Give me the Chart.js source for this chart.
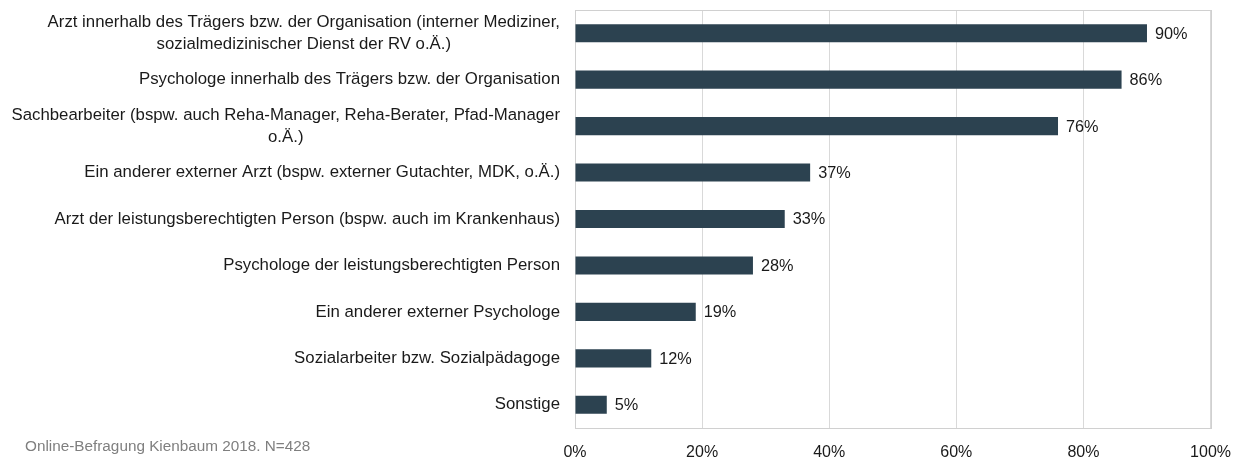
<!DOCTYPE html>
<html>
<head>
    <meta charset="utf-8">
    <title>Beteiligte an der Begutachtung</title>
    <style>
        html, body {
            margin: 0;
            padding: 0;
            background: #ffffff;
        }
        .wrap {
            position: relative;
            width: 1246px;
            height: 461px;
        }
    </style>
</head>
<body>
    <div class="wrap">
        <canvas id="chart" width="1246" height="461"></canvas>
    </div>
    <script src="https://cdn.jsdelivr.net/npm/chart.js"></script>
    <script>
        // Kategorien (mehrzeilige Beschriftungen als Arrays)
        var categories = [
            ['Arzt innerhalb des Trägers bzw. der Organisation (interner Mediziner,', 'sozialmedizinischer Dienst der RV o.Ä.)'],
            ['Psychologe innerhalb des Trägers bzw. der Organisation'],
            ['Sachbearbeiter (bspw. auch Reha-Manager, Reha-Berater, Pfad-Manager', 'o.Ä.)'],
            ['Ein anderer externer Arzt (bspw. externer Gutachter, MDK, o.Ä.)'],
            ['Arzt der leistungsberechtigten Person (bspw. auch im Krankenhaus)'],
            ['Psychologe der leistungsberechtigten Person'],
            ['Ein anderer externer Psychologe'],
            ['Sozialarbeiter bzw. Sozialpädagoge'],
            ['Sonstige']
        ];
        var values = [90, 86, 76, 37, 33, 28, 19, 12, 5];
        var xTicks = [0, 20, 40, 60, 80, 100];
        var sourceNote = 'Online-Befragung Kienbaum 2018. N=428';

        var FONT = '"Liberation Sans", Arial, sans-serif';

        // Rahmen um die Zeichenfläche
        var frame = {
            id: 'frame',
            beforeDatasetsDraw: function(chart) {
                var a = chart.chartArea;
                var ctx = chart.ctx;
                ctx.save();
                ctx.strokeStyle = '#d0d0d0';
                ctx.lineWidth = 1;
                ctx.strokeRect(Math.round(a.left) + 0.5, Math.round(a.top) + 0.5,
                    Math.round(a.right - a.left), Math.round(a.bottom - a.top));
                ctx.restore();
            }
        };

        // Beschriftungen links: Block rechtsbündig, Zeilen zentriert
        var yLabels = {
            id: 'yLabels',
            afterDraw: function(chart) {
                var ctx = chart.ctx;
                var y = chart.scales.y;
                var right = chart.chartArea.left - 15;
                var lh = 22;
                ctx.save();
                ctx.font = '16.8px ' + FONT;
                ctx.fillStyle = '#1a1a1a';
                ctx.textAlign = 'center';
                ctx.textBaseline = 'middle';
                categories.forEach(function(lines, i) {
                    var w = 0;
                    lines.forEach(function(l) { w = Math.max(w, ctx.measureText(l).width); });
                    var cx = right - w / 2;
                    var cy = y.getPixelForTick(i);
                    var start = cy - (lines.length - 1) * lh / 2;
                    lines.forEach(function(l, k) {
                        ctx.fillText(l, cx, start + k * lh);
                    });
                });
                // Quellenangabe
                ctx.font = '15.3px ' + FONT;
                ctx.fillStyle = '#7f7f7f';
                ctx.textAlign = 'left';
                ctx.fillText(sourceNote, 25, 447);
                ctx.restore();
            }
        };

        // Wertbeschriftungen an den Balken
        var valueLabels = {
            id: 'valueLabels',
            afterDatasetsDraw: function(chart) {
                var ctx = chart.ctx;
                var meta = chart.getDatasetMeta(0);
                ctx.save();
                ctx.font = '16.3px ' + FONT;
                ctx.fillStyle = '#1a1a1a';
                ctx.textAlign = 'left';
                ctx.textBaseline = 'middle';
                meta.data.forEach(function(bar, i) {
                    ctx.fillText(values[i] + '%', bar.x + 8, bar.y + 1);
                });
                ctx.restore();
            }
        };

        new Chart(document.getElementById('chart'), {
            type: 'bar',
            data: {
                labels: categories.map(function(c) { return c.join(' '); }),
                datasets: [{
                    data: values,
                    backgroundColor: '#2c4250',
                    borderWidth: 0,
                    categoryPercentage: 1,
                    barPercentage: 0.39
                }]
            },
            options: {
                indexAxis: 'y',
                responsive: false,
                animation: false,
                layout: {
                    padding: { left: 0, right: 32, top: 10, bottom: 0 }
                },
                plugins: {
                    legend: { display: false },
                    tooltip: { enabled: false }
                },
                scales: {
                    x: {
                        min: 0,
                        max: 100,
                        afterBuildTicks: function(scale) {
                            scale.ticks = xTicks.map(function(v) { return { value: v }; });
                        },
                        afterFit: function(scale) { scale.height = 33; },
                        grid: {
                            color: '#d9d9d9',
                            drawTicks: false
                        },
                        border: { display: true, color: '#c8c8c8' },
                        ticks: {
                            padding: 15,
                            color: '#1a1a1a',
                            font: { family: FONT, size: 16 },
                            callback: function(v) { return v + '%'; }
                        }
                    },
                    y: {
                        afterFit: function(scale) { scale.width = 575; },
                        grid: { display: false, drawTicks: false },
                        border: { display: true, color: '#c8c8c8' },
                        ticks: { display: false }
                    }
                }
            },
            plugins: [frame, yLabels, valueLabels]
        });
    </script>
</body>
</html>
